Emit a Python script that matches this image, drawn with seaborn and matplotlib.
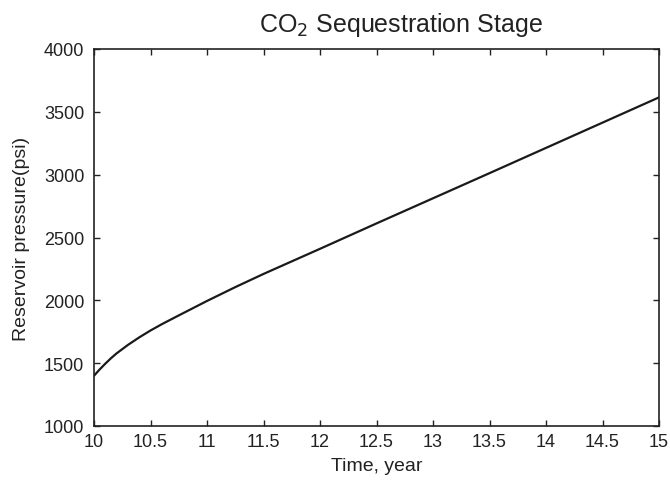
import matplotlib
matplotlib.use("Agg")
import matplotlib.pyplot as plt
import seaborn as sns
import pandas as pd

# Reservoir pressure during the CO2 injection period
time_year = [10.0, 10.05, 10.1, 10.15, 10.2, 10.3, 10.4, 10.5, 10.6, 10.75,
             11.0, 11.25, 11.5, 12.0, 12.5, 13.0, 13.5, 14.0, 14.5, 15.0]
pressure_psi = [1400, 1450, 1496, 1539, 1578, 1645, 1705, 1760, 1810, 1880,
                1995, 2105, 2210, 2410, 2612, 2812, 3012, 3213, 3414, 3615]

x_ticks = [10, 10.5, 11, 11.5, 12, 12.5, 13, 13.5, 14, 14.5, 15]
x_tick_labels = ["10", "10.5", "11", "11.5", "12", "12.5", "13", "13.5", "14", "14.5", "15"]
y_ticks = [1000, 1500, 2000, 2500, 3000, 3500, 4000]

sns.set_style("ticks")
plt.rcParams["font.family"] = ["Liberation Sans", "DejaVu Sans"]

df = pd.DataFrame({"time": time_year, "pressure": pressure_psi})

fig = plt.figure(figsize=(6.7, 4.81), dpi=100)
ax = fig.add_axes([94 / 670, 1 - 427 / 481, (659 - 94) / 670, (427 - 50) / 481])

sns.lineplot(data=df, x="time", y="pressure", ax=ax, color="#1a1a1a", linewidth=1.6)

ax.set_xlim(10, 15)
ax.set_ylim(1000, 4000)
ax.set_xticks(x_ticks)
ax.set_xticklabels(x_tick_labels)
ax.set_yticks(y_ticks)
ax.tick_params(direction="in", length=4, width=1.0, top=True, right=True,
               labelsize=13, colors="#222222")
ax.tick_params(axis="x", pad=5)
ax.tick_params(axis="y", pad=7)
for s in ax.spines.values():
    s.set_visible(True)
    s.set_linewidth(1.2)
    s.set_color("#222222")

ax.set_xlabel("Time, year", fontsize=14, color="#222222", labelpad=5)
ax.set_ylabel("Reservoir pressure(psi)", fontsize=14, color="#222222", labelpad=10)
ax.set_title("CO$_2$ Sequestration Stage", fontsize=18, color="#222222", pad=13, x=0.543)

fig.savefig("out.png", dpi=100)
